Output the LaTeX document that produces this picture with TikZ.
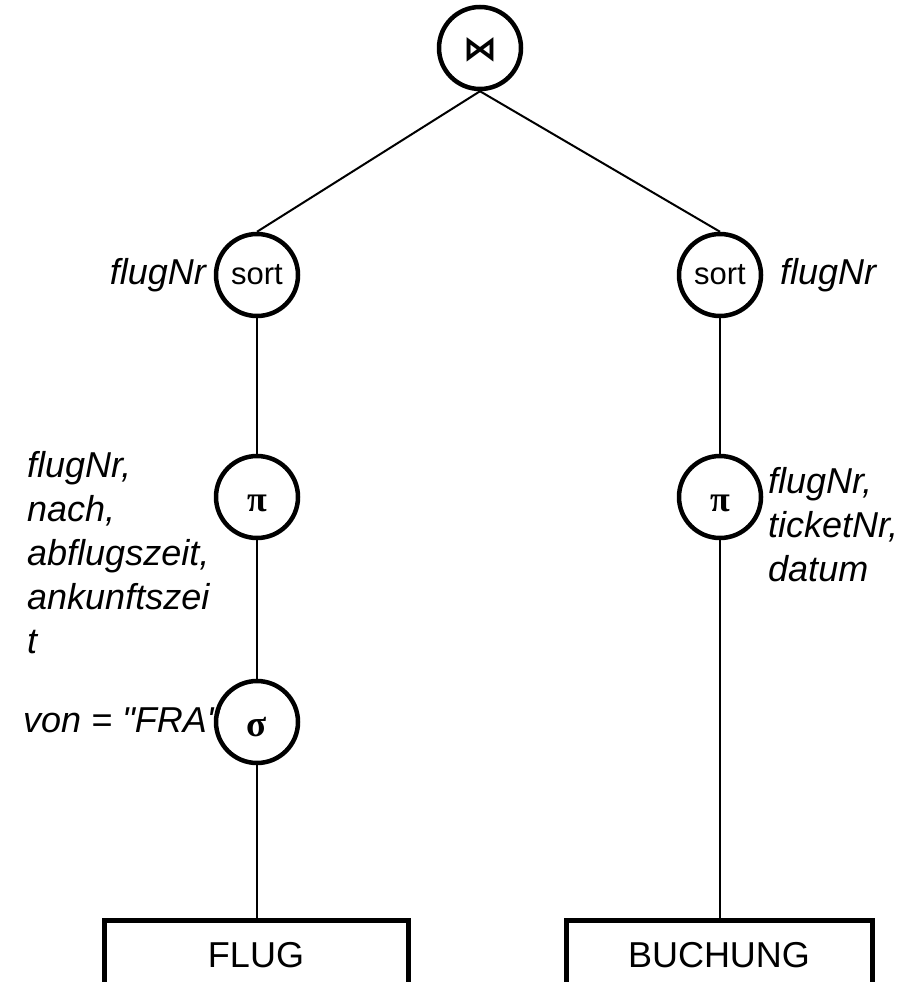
\documentclass[tikz,border=0pt]{standalone}
\usepackage{fontspec}
\setmainfont{Liberation Sans}
\newfontfamily\symfont{DejaVu Sans}
\newfontfamily\grkfont{Liberation Serif}
\newcommand\strq{\XeTeXglyph\XeTeXcharglyph"22\relax}
\begin{document}
\begin{tikzpicture}[x=1pt,y=-1pt,
  op/.style={circle, draw, line width=4.5pt, minimum size=82pt, inner sep=0pt},
  conn/.style={line width=2pt},
  rel/.style={draw, line width=5pt, minimum width=304pt, inner sep=0pt,
    text height=47pt, text depth=60pt, anchor=north, font=\fontsize{36}{40}\selectfont},
  lbl/.style={inner sep=0pt, font=\fontsize{36}{44}\selectfont\itshape, align=left},
  sortfont/.style={font=\fontsize{31}{31}\selectfont},
  grk/.style={text height=28pt, text depth=0pt}
]
\useasboundingbox (0,0) rectangle (913,982);
\clip (0,0) rectangle (913,982);
% labels
\node[lbl, anchor=east] (lsortL) at (206,275) {flugNr};
\node[lbl, anchor=west] (lsortR) at (780,275) {flugNr};
\node[lbl, anchor=north west] (lpiL) at (27,451) {flugNr,\\nach,\\abflugszeit,\\ankunftszei\\t};
\node[lbl, anchor=north west] (lpiR) at (768,467) {flugNr,\\ticketNr,\\datum};
\node[lbl, anchor=east] (lsigma) at (220,720) {von = \strq FRA\strq};
% operators
\node[op, text height=24pt, text depth=0pt, font=\symfont\bfseries\fontsize{34}{34}\selectfont] (join) at (480,48) {⋈};
\node[op, sortfont] (sortL) at (257,275) {sort};
\node[op, sortfont] (sortR) at (720,275) {sort};
\node[op, grk, font=\grkfont\bfseries\fontsize{36}{36}\selectfont] (piL) at (257,497) {π};
\node[op, grk, font=\grkfont\bfseries\fontsize{36}{36}\selectfont] (piR) at (720,497) {π};
\node[op, grk, font=\grkfont\bfseries\fontsize{37}{37}\selectfont] (sigma) at (257,722) {σ};
% relations
\node[rel] (flug) at (256,918) {FLUG};
\node[rel, minimum width=306pt] (buchung) at (719,918) {BUCHUNG};
% connectors
\draw[conn] (join.south) -- (sortL.north);
\draw[conn] (join.south) -- (sortR.north);
\draw[conn] (sortL.south) -- (piL.north);
\draw[conn] (piL.south) -- (sigma.north);
\draw[conn] (sigma.south) -- (sigma.south |- flug.north);
\draw[conn] (sortR.south) -- (piR.north);
\draw[conn] (piR.south) -- (piR.south |- buchung.north);
\end{tikzpicture}
\end{document}
